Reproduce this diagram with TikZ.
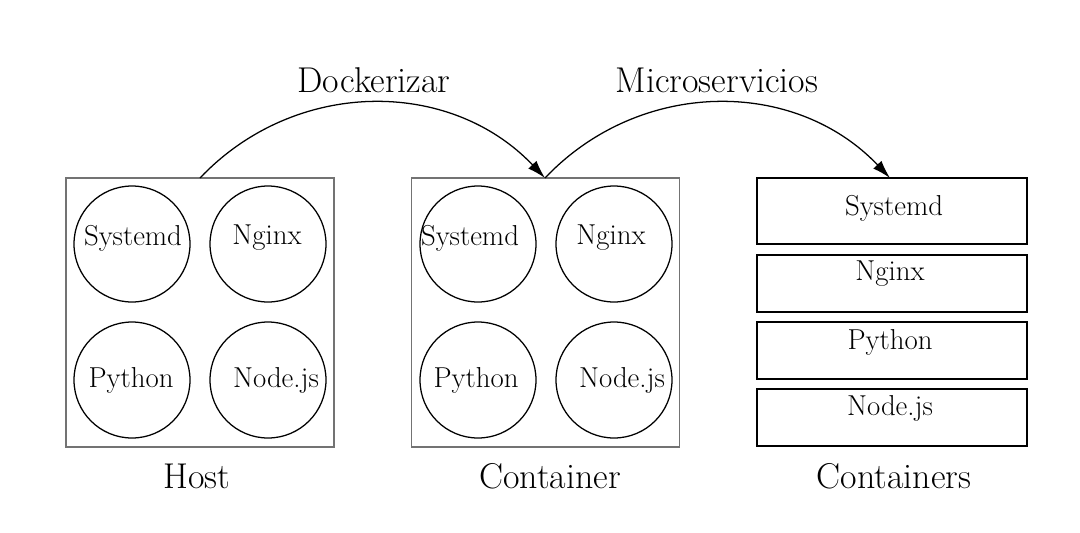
\documentclass[tikz,border=0pt]{standalone}
\usetikzlibrary{arrows.meta}
\begin{document}
\begin{tikzpicture}[x=0.025cm,y=-0.025cm,
  frame/.style={draw=black!55,line width=0.8pt,minimum width=268*0.025cm,minimum height=269*0.025cm,inner sep=0pt},
  svc/.style={draw=black,line width=0.9pt,circle,minimum size=116*0.025cm,inner sep=0pt},
  svctext/.style={font=\fontsize{20.5}{22}\selectfont,inner sep=0pt},
  layer/.style={draw=black,line width=0.9pt,minimum width=270*0.025cm,inner sep=0pt},
  biglabel/.style={font=\fontsize{25.5}{28}\selectfont,inner sep=0pt},
  conn/.style={line width=0.9pt,-{Latex[length=13pt,width=8pt]}}]
\useasboundingbox (0,0) rectangle (1080,533);
% Host
\node[frame] (host) at (200,312.5) {};
\node[svc] (h1) at (132,244) {};
\node[svc] (h2) at (268,244) {};
\node[svc] (h3) at (132,380) {};
\node[svc] (h4) at (268,380) {};
\node[svctext] (h1t) at (133,238) {Systemd};
\node[svctext] (h2t) at (267,238) {Nginx};
\node[svctext] (h3t) at (131,380) {Python};
\node[svctext] (h4t) at (276,380) {Node.js};
\node[biglabel] (hostl) at (197,476) {Host};
% Container
\node[frame] (cont) at (545.5,312.5) {};
\node[svc] (c1) at (478,244) {};
\node[svc] (c2) at (614,244) {};
\node[svc] (c3) at (478,380) {};
\node[svc] (c4) at (614,380) {};
\node[svctext] (c1t) at (470,238) {Systemd};
\node[svctext] (c2t) at (611,238) {Nginx};
\node[svctext] (c3t) at (476,380) {Python};
\node[svctext] (c4t) at (622,380) {Node.js};
\node[biglabel] (contl) at (550,476) {Container};
% Containers
\node[layer,minimum height=66*0.025cm] (r1) at (892,211) {};
\node[layer,minimum height=57*0.025cm] (r2) at (892,283.5) {};
\node[layer,minimum height=57*0.025cm] (r3) at (892,350.5) {};
\node[layer,minimum height=57*0.025cm] (r4) at (892,417.5) {};
\node[svctext] (r1t) at (894,208) {Systemd};
\node[svctext] (r2t) at (890,274) {Nginx};
\node[svctext] (r3t) at (890,342) {Python};
\node[svctext] (r4t) at (890,408) {Node.js};
\node[biglabel] (contsl) at (894,476) {Containers};
% Arrows
\coordinate (hs) at (200,178);
\coordinate (ct) at (545,178);
\coordinate (rt) at (890,178);
\draw[conn] (hs) .. controls (295,78) and (450,78) .. (ct);
\draw[conn] (ct) .. controls (640,78) and (795,78) .. (rt);
\node[biglabel] (dock) at (374,80) {Dockerizar};
\node[biglabel] (micro) at (717,80) {Microservicios};
\end{tikzpicture}
\end{document}
